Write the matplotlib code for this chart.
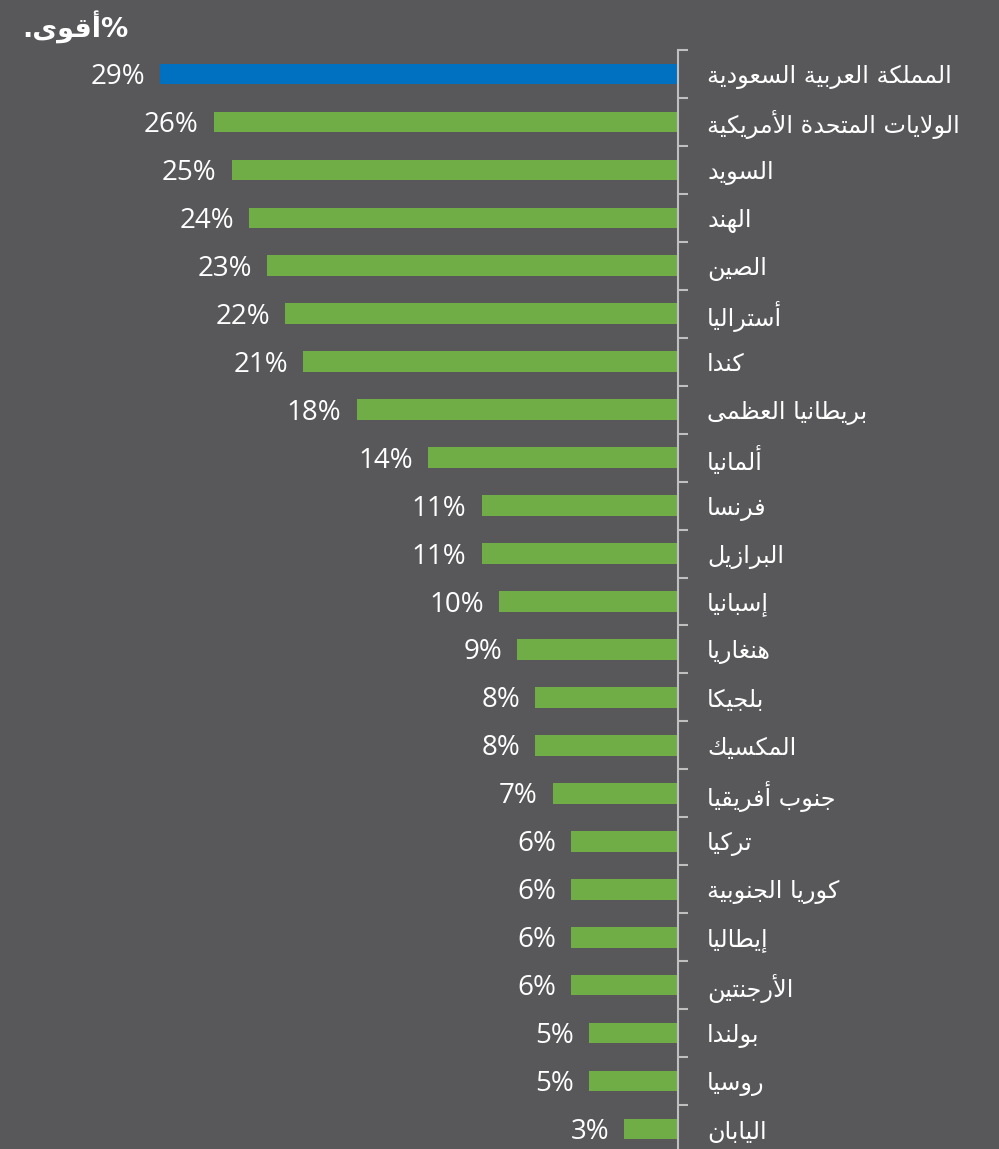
import matplotlib
matplotlib.use('Agg')
import matplotlib.pyplot as plt
import numpy as np

# ---------------- data ----------------
countries = [
    "المملكة العربية السعودية",
    "الولايات المتحدة الأمريكية",
    "السويد",
    "الهند",
    "الصين",
    "أستراليا",
    "كندا",
    "بريطانيا العظمى",
    "ألمانيا",
    "فرنسا",
    "البرازيل",
    "إسبانيا",
    "هنغاريا",
    "بلجيكا",
    "المكسيك",
    "جنوب أفريقيا",
    "تركيا",
    "كوريا الجنوبية",
    "إيطاليا",
    "الأرجنتين",
    "بولندا",
    "روسيا",
    "اليابان",
]
values = [29, 26, 25, 24, 23, 22, 21, 18, 14, 11, 11, 10, 9, 8, 8, 7, 6, 6, 6, 6, 5, 5, 3]
value_labels = [f"{v}%" for v in values]
title_word = "أقوى"

# ---------------- simple Arabic shaping (visual order) ----------------
_F = {
    '\u0621': (0xFE80,),
    '\u0622': (0xFE81, 0xFE82), '\u0623': (0xFE83, 0xFE84), '\u0624': (0xFE85, 0xFE86),
    '\u0625': (0xFE87, 0xFE88), '\u0626': (0xFE89, 0xFE8A, 0xFE8B, 0xFE8C),
    '\u0627': (0xFE8D, 0xFE8E), '\u0628': (0xFE8F, 0xFE90, 0xFE91, 0xFE92),
    '\u0629': (0xFE93, 0xFE94), '\u062A': (0xFE95, 0xFE96, 0xFE97, 0xFE98),
    '\u062B': (0xFE99, 0xFE9A, 0xFE9B, 0xFE9C), '\u062C': (0xFE9D, 0xFE9E, 0xFE9F, 0xFEA0),
    '\u062D': (0xFEA1, 0xFEA2, 0xFEA3, 0xFEA4), '\u062E': (0xFEA5, 0xFEA6, 0xFEA7, 0xFEA8),
    '\u062F': (0xFEA9, 0xFEAA), '\u0630': (0xFEAB, 0xFEAC), '\u0631': (0xFEAD, 0xFEAE),
    '\u0632': (0xFEAF, 0xFEB0), '\u0633': (0xFEB1, 0xFEB2, 0xFEB3, 0xFEB4),
    '\u0634': (0xFEB5, 0xFEB6, 0xFEB7, 0xFEB8), '\u0635': (0xFEB9, 0xFEBA, 0xFEBB, 0xFEBC),
    '\u0636': (0xFEBD, 0xFEBE, 0xFEBF, 0xFEC0), '\u0637': (0xFEC1, 0xFEC2, 0xFEC3, 0xFEC4),
    '\u0638': (0xFEC5, 0xFEC6, 0xFEC7, 0xFEC8), '\u0639': (0xFEC9, 0xFECA, 0xFECB, 0xFECC),
    '\u063A': (0xFECD, 0xFECE, 0xFECF, 0xFED0), '\u0641': (0xFED1, 0xFED2, 0xFED3, 0xFED4),
    '\u0642': (0xFED5, 0xFED6, 0xFED7, 0xFED8), '\u0643': (0xFED9, 0xFEDA, 0xFEDB, 0xFEDC),
    '\u0644': (0xFEDD, 0xFEDE, 0xFEDF, 0xFEE0), '\u0645': (0xFEE1, 0xFEE2, 0xFEE3, 0xFEE4),
    '\u0646': (0xFEE5, 0xFEE6, 0xFEE7, 0xFEE8), '\u0647': (0xFEE9, 0xFEEA, 0xFEEB, 0xFEEC),
    '\u0648': (0xFEED, 0xFEEE), '\u0649': (0xFEEF, 0xFEF0),
    '\u064A': (0xFEF1, 0xFEF2, 0xFEF3, 0xFEF4),
}
_LAMALEF = {'\u0622': (0xFEF5, 0xFEF6), '\u0623': (0xFEF7, 0xFEF8),
            '\u0625': (0xFEF9, 0xFEFA), '\u0627': (0xFEFB, 0xFEFC)}


def shape(s):
    # merge lam-alef first
    units = []
    i = 0
    while i < len(s):
        c = s[i]
        if c == '\u0644' and i + 1 < len(s) and s[i + 1] in _LAMALEF:
            units.append(('LA', s[i + 1]))
            i += 2
        else:
            units.append(('C', c))
            i += 1

    def dual(u):
        return u[0] == 'C' and u[1] in _F and len(_F[u[1]]) == 4

    def joinable(u):
        return u[0] == 'LA' or (u[1] in _F and len(_F[u[1]]) >= 2)

    out = []
    for k, u in enumerate(units):
        prev_c = k > 0 and dual(units[k - 1]) and joinable(u)
        if u[0] == 'LA':
            out.append(chr(_LAMALEF[u[1]][1 if prev_c else 0]))
            continue
        c = u[1]
        if c not in _F:
            out.append(c)
            continue
        forms = _F[c]
        next_c = len(forms) == 4 and k + 1 < len(units) and joinable(units[k + 1])
        if prev_c and next_c:
            idx = 3
        elif prev_c:
            idx = 1
        elif next_c:
            idx = 2
        else:
            idx = 0
        out.append(chr(forms[min(idx, len(forms) - 1)]))
    return ''.join(reversed(out))


# ---------------- figure ----------------
W, H = 999, 1149
bg = '#58585A'
fig = plt.figure(figsize=(W / 100, H / 100), dpi=100)
fig.patch.set_facecolor(bg)

axis_x = 678
left_px = 60
top_px, bot_px = 50, 1153
scale = 17.86  # px per percent

ax = fig.add_axes([left_px / W, 1 - bot_px / H, (axis_x - left_px) / W, (bot_px - top_px) / H])
ax.set_facecolor(bg)

n = len(values)
y = np.arange(n)
colors = ['#0070C0'] + ['#70AD47'] * (n - 1)
ax.barh(y, values, height=0.43, color=colors, zorder=2)
ax.set_xlim((axis_x - left_px) / scale, 0)
ax.set_ylim(n - 0.5, -0.5)

for i, (v, lab) in enumerate(zip(values, value_labels)):
    ax.annotate(lab, xy=(v, i), xytext=(-15, -3), textcoords='offset pixels',
                ha='right', va='center', color='white', fontsize=20,
                family=['Open Sans', 'DejaVu Sans'])

for s in ['top', 'left', 'bottom']:
    ax.spines[s].set_visible(False)
ax.spines['right'].set_color('#BFBFBF')
ax.spines['right'].set_linewidth(1.5)
ax.set_xticks([])
ax.yaxis.tick_right()
ax.set_yticks(y)
ax.set_yticklabels([shape(c) for c in countries], family=['DejaVu Sans'],
                   fontsize=17.2, color='white')
ax.tick_params(axis='y', which='major', length=0, pad=21)
ax.set_yticks(np.arange(n + 1) - 0.5, minor=True)
ax.tick_params(axis='y', which='minor', length=7, width=1.5, color='#BFBFBF', direction='out')

fig.text(22 / W, 1 - 28 / H, '.' + shape(title_word) + '%', color='white', fontsize=19.5,
         fontweight='bold', ha='left', va='center', family=['DejaVu Sans'])

fig.savefig('out.png', dpi=100, facecolor=bg)
